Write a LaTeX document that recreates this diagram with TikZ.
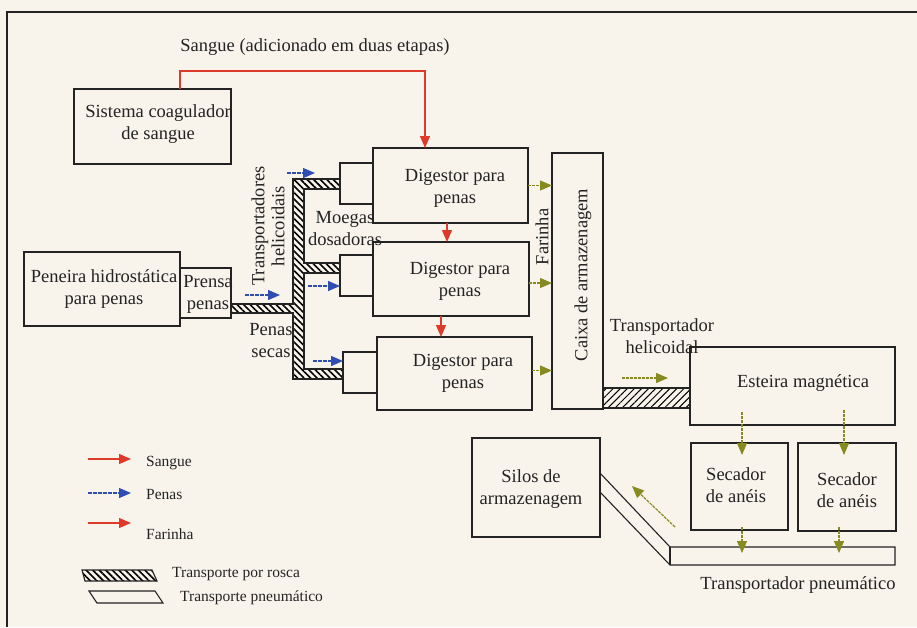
\documentclass[tikz,border=0pt]{standalone}
\usepackage{fontspec}
\setmainfont{Liberation Serif}
\usetikzlibrary{arrows.meta,patterns.meta}
\definecolor{bg}{RGB}{248,244,236}
\definecolor{sred}{RGB}{222,58,42}
\definecolor{pblue}{RGB}{48,78,178}
\definecolor{folive}{RGB}{135,138,30}
\definecolor{ink}{RGB}{35,35,35}
\begin{document}
\begin{tikzpicture}[x=1pt,y=-1pt,
 box/.style={draw=ink,line width=1.1pt,anchor=north west,inner sep=0pt,outer sep=0pt},
 txt/.style={font=\fontsize{18.5}{22}\selectfont,text=ink,align=center,inner sep=0pt},
 leg/.style={font=\fontsize{15.5}{18}\selectfont,text=ink,anchor=west,inner sep=0pt},
 tip/.style={-{Triangle[length=12pt,width=10pt]}},
 redarrow/.style={tip,color=sred,line width=1.2pt},
 bluearrow/.style={tip,color=pblue,line width=1.3pt,dash pattern=on 4pt off 1pt},
 olivearrow/.style={tip,color=folive,line width=1.2pt,dash pattern=on 3pt off 1pt},
 screw/.style={draw=ink,line width=1.1pt,pattern={Lines[angle=-45,distance=4.6pt,line width=1.6pt]}},
 screwb/.style={draw=ink,line width=1.1pt,pattern={Lines[angle=45,distance=5pt,line width=1pt]}},
 pneu/.style={draw=ink,line width=1.1pt},
]
\fill[bg] (0,0) rectangle (917,627);
\useasboundingbox (0,0) rectangle (917,627);
% frame
\draw[ink,line width=1.5pt] (917,12) -- (7,12) -- (7,627);

% boxes
\node[box,minimum width=157pt,minimum height=75pt] (coag) at (74,89) {};
\node[box,minimum width=156pt,minimum height=74pt] (peneira) at (24,252) {};
\node[box,minimum width=51pt,minimum height=50pt] (prensa) at (180,268) {};
\node[box,minimum width=33pt,minimum height=41pt] (m1) at (340,163) {};
\node[box,minimum width=33pt,minimum height=41pt] (m2) at (340,255) {};
\node[box,minimum width=34pt,minimum height=41pt] (m3) at (343,352) {};
\node[box,minimum width=155pt,minimum height=75pt] (d1) at (373,148) {};
\node[box,minimum width=156pt,minimum height=74pt] (d2) at (373,242) {};
\node[box,minimum width=155pt,minimum height=73pt] (d3) at (377,337) {};
\node[box,minimum width=51pt,minimum height=256pt] (caixa) at (552,153) {};
\node[box,minimum width=205pt,minimum height=78pt] (esteira) at (690,347) {};
\node[box,minimum width=97pt,minimum height=87pt] (sec1) at (691,443) {};
\node[box,minimum width=98pt,minimum height=88pt] (sec2) at (798,443) {};
\node[box,minimum width=128pt,minimum height=99pt] (silos) at (472,438) {};

% screw conveyors
\draw[screw] (293,179) -- (340,179) -- (340,189) -- (304,189) -- (304,263) -- (340,263)
  -- (340,273) -- (304,273) -- (304,369) -- (343,369) -- (343,379) -- (293,379)
  -- (293,313) -- (prensa.east |- 0,313) -- (prensa.east |- 0,304) -- (293,304) -- cycle;
\draw[screwb] (caixa.east |- 0,388) rectangle (esteira.west |- 0,408);

% pneumatic conveyor
\draw[pneu] (silos.east |- 0,473) -- (670,547) -- (esteira.east |- 0,547) -- (esteira.east |- 0,565)
  -- (670,565) -- (silos.east |- 0,492);
\draw[pneu] (670,547) -- (670,565);

% texts
\node[txt] (tsangue) at (315,47) {Sangue (adicionado em duas etapas)};
\node[txt] (tcoag) at (158,124) {Sistema coagulador\\de sangue};
\node[txt] (tpen) at (104,289) {Peneira hidrostática\\para penas};
\node[txt] (tprensa) at (208,294) {Prensa\\penas};
\node[txt,rotate=90,font=\fontsize{18.5}{20}\selectfont] (ttransp) at (268,226) {Transportadores\\helicoidais};
\node[txt] (tmoegas) at (345,229) {Moegas\\dosadoras};
\node[txt] (tsecas) at (271,341) {Penas\\secas};
\node[txt] (td1) at (455,188) {Digestor para\\penas};
\node[txt] (td2) at (460,281) {Digestor para\\penas};
\node[txt] (td3) at (463,373) {Digestor para\\penas};
\node[txt,rotate=90] (tfar) at (542,237) {Farinha};
\node[txt,rotate=90] (tcaixa) at (583,275) {Caixa de armazenagem};
\node[txt] (thel) at (662,336) {Transportador\\helicoidal};
\node[txt] (test) at (803,383) {Esteira magnética};
\node[txt] (tsec1) at (736,485) {Secador\\de anéis};
\node[txt] (tsec2) at (847,490) {Secador\\de anéis};
\node[txt] (tsilos) at (531,489) {Silos de\\armazenagem};
\node[txt] (tpneu) at (798,585) {Transportador pneumático};

% blood arrows
\coordinate (sgA) at (180,71);
\coordinate (sgB) at (425,71);
\draw[redarrow] (sgA |- coag.north) -- (sgA) -- (sgB) -- (sgB |- d1.north);
\draw[redarrow] ([xshift=-3.5pt]d1.south) -- ([xshift=-3.5pt]d1.south |- d2.north);
\draw[redarrow] ([xshift=-10pt]d2.south) -- ([xshift=-10pt]d2.south |- d3.north);

% feather arrows
\coordinate (b0) at (245,295);
\coordinate (b1) at (287,173);
\coordinate (b2) at (308,286);
\coordinate (b3) at (313,361);
\draw[bluearrow] (b0) -- (280,295);
\draw[bluearrow] (b1) -- (315,173);
\draw[bluearrow] (b2) -- (b2 -| m2.west);
\draw[bluearrow] (b3) -- (b3 -| m3.west);

% flour arrows
\draw[olivearrow] (d1.east) -- (d1.east -| caixa.west);
\draw[olivearrow] ([yshift=-4pt]d2.east) -- ([yshift=-4pt]d2.east -| caixa.west);
\draw[olivearrow] ([yshift=3pt]d3.east) -- ([yshift=3pt]d3.east -| caixa.west);
\coordinate (h0) at (622,378);
\draw[olivearrow] (h0) -- (668,378);
\coordinate (e1) at (742,412);
\coordinate (e2) at (844,410);
\draw[olivearrow] (e1) -- ([yshift=-12pt]e1 |- sec1.north);
\draw[olivearrow] (e2) -- ([yshift=-12pt]e2 |- sec2.north);
\coordinate (s1) at (742,527);
\coordinate (s2) at (839,527);
\draw[olivearrow] (s1) -- (742,553);
\draw[olivearrow] (s2) -- (839,553);
\coordinate (pa) at (675,527);
\draw[olivearrow] (pa) -- (632,486);

% legend
\coordinate (la) at (88,459);
\coordinate (lb) at (88,493);
\coordinate (lc) at (88,523);
\draw[redarrow] (la) -- (131,459);
\draw[bluearrow] (lb) -- (131,493);
\draw[redarrow] (lc) -- (131,523);
\node[leg] (lsangue) at (146,463) {Sangue};
\node[leg] (lpenas) at (146,494) {Penas};
\node[leg] (lfar) at (146,534) {Farinha};
\draw[screw] (82,570) -- (152,570) -- (157,581) -- (85,581) -- cycle;
\node[leg] (lrosca) at (172,574) {Transporte por rosca};
\draw[pneu] (89,591) -- (155,591) -- (163,603) -- (97,603) -- cycle;
\node[leg] (lpneu) at (180,598) {Transporte pneumático};
\end{tikzpicture}
\end{document}
